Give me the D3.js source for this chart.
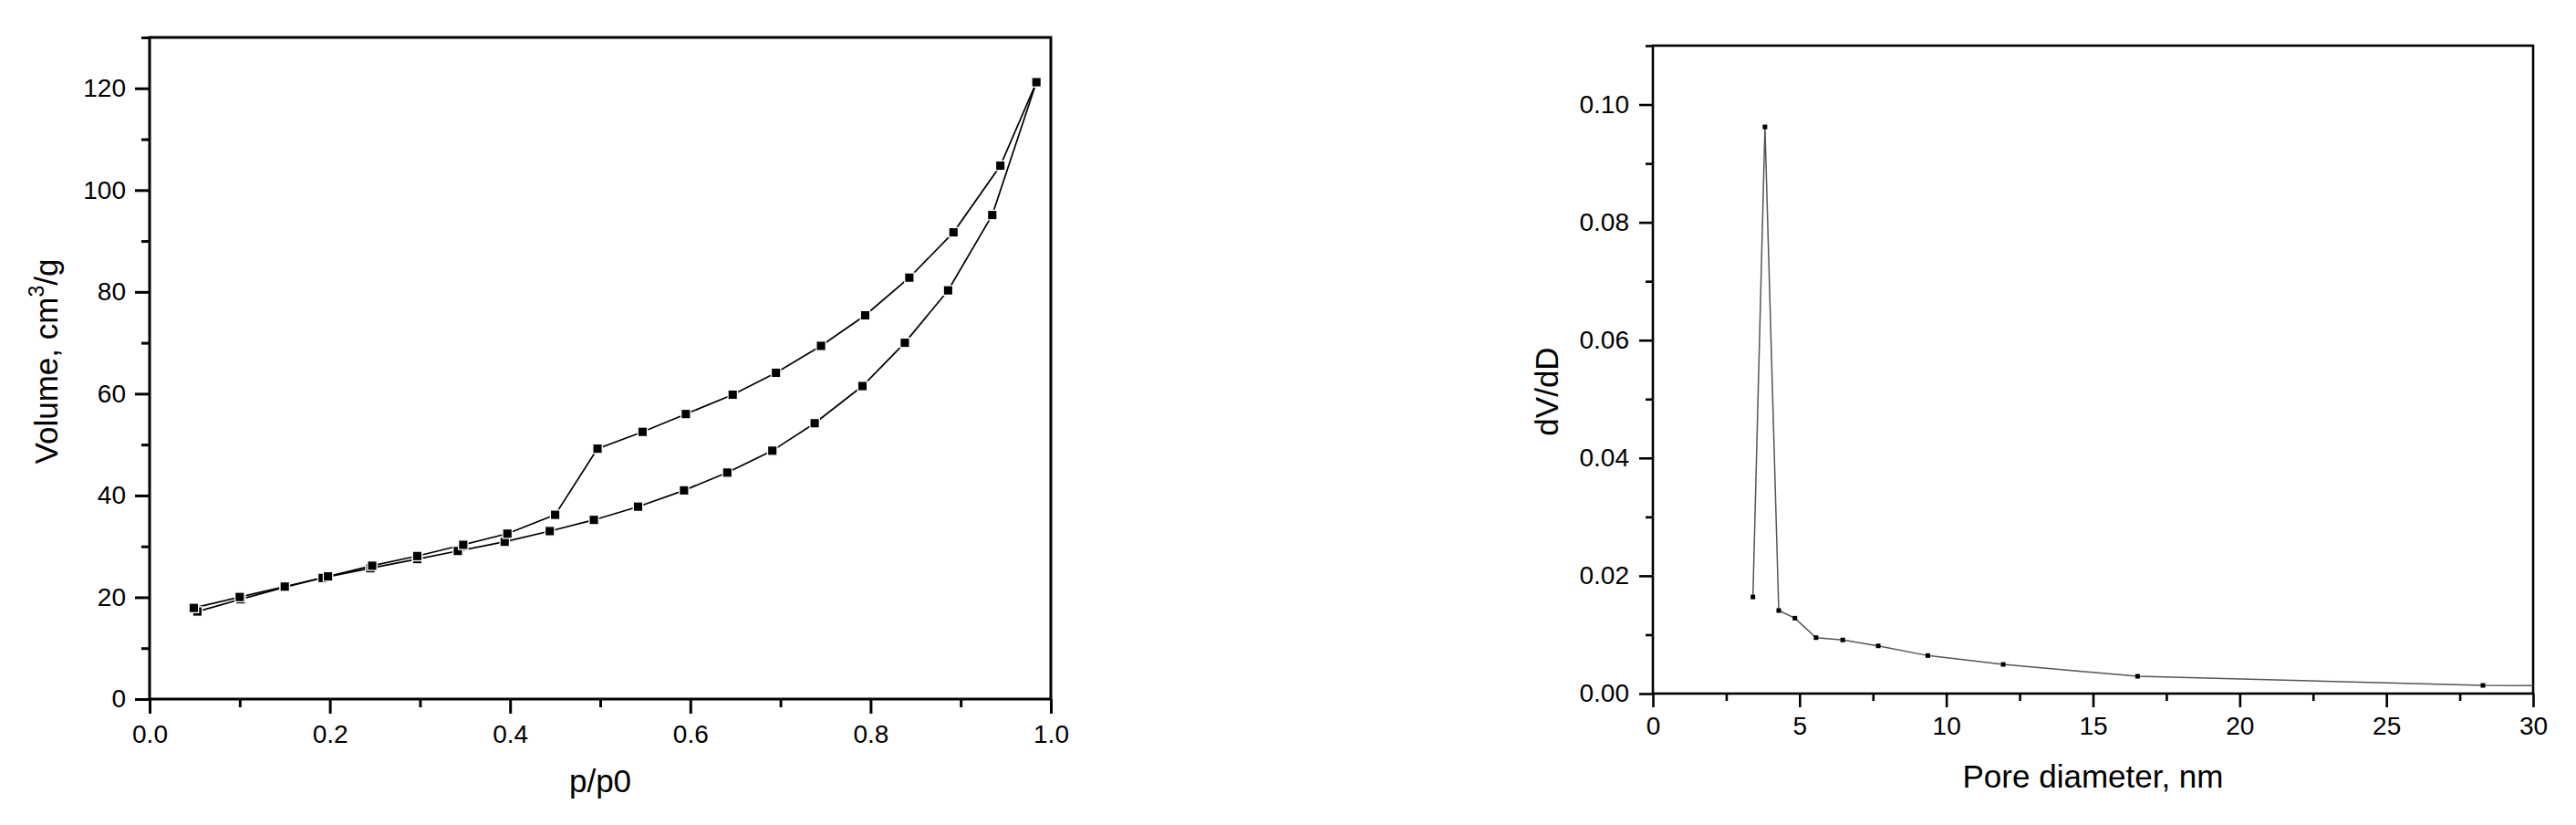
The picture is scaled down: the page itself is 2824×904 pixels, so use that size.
<!DOCTYPE html>
<html>
<head>
<meta charset="utf-8">
<script src="https://cdn.jsdelivr.net/npm/d3@7"></script>
<style>
  body { margin: 0; background: #fff; }
  text { font-family: "Liberation Sans", Arial, sans-serif; fill: #000; }
</style>
</head>
<body>
<svg id="chart" width="2824" height="904"></svg>
<script>
// isotherm (left)
const adsP = [0.053, 0.101, 0.150, 0.192, 0.245, 0.297, 0.342, 0.394, 0.444, 0.493, 0.542, 0.593, 0.641, 0.691, 0.738, 0.791, 0.838, 0.886, 0.935, 0.984]
const adsV = [17.2, 19.6, 22.0, 23.8, 25.7, 27.5, 29.1, 30.9, 33.0, 35.2, 37.8, 41.0, 44.5, 48.8, 54.2, 61.5, 70.0, 80.3, 95.1, 121.2]
const desP = [0.984, 0.944, 0.892, 0.843, 0.794, 0.745, 0.695, 0.647, 0.595, 0.547, 0.497, 0.450, 0.397, 0.348, 0.297, 0.247, 0.198, 0.150, 0.100, 0.049]
const desV = [121.2, 104.8, 91.7, 82.8, 75.4, 69.4, 64.1, 59.8, 56.0, 52.5, 49.2, 36.2, 32.5, 30.3, 28.1, 26.2, 24.1, 22.1, 20.05, 17.9]
const isoXTicks = [0, 0.2, 0.4, 0.6, 0.8, 1.0]
const isoYTicks = [0, 20, 40, 60, 80, 100, 120]

// pore size distribution (right)
const poreD = [3.41, 3.82, 4.29, 4.84, 5.56, 6.47, 7.68, 9.37, 11.94, 16.52, 28.29, 45]
const poreDV = [0.0164, 0.0962, 0.0141, 0.0128, 0.0095, 0.0091, 0.0081, 0.00645, 0.00495, 0.00294, 0.00139, 0.0011]
const poreXTicks = [0, 5, 10, 15, 20, 25, 30]
const poreYTicks = [0, 0.02, 0.04, 0.06, 0.08, 0.10]

var svg = d3.select("#chart")

function frame(g, x, y, xTicks, yTicks, xMinor, yMinor, fmtX, fmtY, sw, tk) {
    var w = x.range()[1], h = y.range()[0]

    // minor ticks
    g.append("g").attr("transform", "translate(0," + h + ")")
        .call(d3.axisBottom(x).tickValues(xMinor).tickSize(tk.minor).tickFormat(""))
    g.append("g")
        .call(d3.axisLeft(y).tickValues(yMinor).tickSize(tk.minor).tickFormat(""))

    g.append("g").attr("transform", "translate(0," + h + ")")
        .call(d3.axisBottom(x).tickValues(xTicks).tickSize(tk.major).tickPadding(tk.padX).tickFormat(fmtX))
    g.append("g")
        .call(d3.axisLeft(y).tickValues(yTicks).tickSize(tk.major).tickPadding(tk.padY).tickFormat(fmtY))

    g.selectAll(".domain").remove()
    g.selectAll(".tick line").attr("stroke", "#000").attr("stroke-width", sw)
    g.selectAll(".tick text").attr("font-size", "28px").style("font-family", '"Liberation Sans", Arial, sans-serif')

    // box
    g.append("rect")
        .attr("x", 0).attr("y", 0).attr("width", w).attr("height", h)
        .attr("fill", "none").attr("stroke", "#000").attr("stroke-width", sw)
}

// ---------- left chart ----------
var L = { left: 164, top: 41, w: 988, h: 725 }
var gl = svg.append("g").attr("transform", "translate(" + L.left + "," + L.top + ")")
var xl = d3.scaleLinear().domain([0, 1.0]).range([0, L.w])
var yl = d3.scaleLinear().domain([0, 130]).range([L.h, 0])

frame(gl, xl, yl, isoXTicks,
    isoYTicks,
    [0.1, 0.3, 0.5, 0.7, 0.9],
    [10, 30, 50, 70, 90, 110, 130],
    d3.format(".1f"), d3.format("d"), 3,
    { major: 16, minor: 9, padX: 12, padY: 10 })

var lineL = d3.line().x(d => xl(d[0])).y(d => yl(d[1]))
var ads = d3.zip(adsP, adsV)
var des = d3.zip(desP, desV)

;[ads, des].forEach(function(s) {
    gl.append("path")
        .datum(s)
        .attr("d", lineL)
        .attr("fill", "none")
        .attr("stroke", "#000")
        .attr("stroke-width", 1.7)
})
;[ads, des].forEach(function(s) {
    gl.selectAll(null)
        .data(s)
        .enter()
        .append("rect")
        .attr("x", d => xl(d[0]) - 5.2)
        .attr("y", d => yl(d[1]) - 5.2)
        .attr("width", 10.4)
        .attr("height", 10.4)
        .attr("fill", "#000")
        .attr("stroke", "#fff")
        .attr("stroke-width", 1.3)
})

gl.append("text")
    .attr("x", L.w / 2)
    .attr("y", 827)
    .attr("text-anchor", "middle")
    .attr("font-size", "35px")
    .text("p/p0")

var yt = svg.append("text")
    .attr("transform", "translate(63,396) rotate(-90)")
    .attr("text-anchor", "middle")
    .attr("font-size", "35px")
yt.append("tspan").text("Volume, cm")
yt.append("tspan").attr("font-size", "23px").attr("dy", "-15").text("3")
yt.append("tspan").attr("dy", "15").text("/g")

// ---------- right chart ----------
var R = { left: 1812, top: 50, w: 965, h: 710 }
var gr = svg.append("g").attr("transform", "translate(" + R.left + "," + R.top + ")")
var xr = d3.scaleLinear().domain([0, 30]).range([0, R.w])
var yr = d3.scaleLinear().domain([0, 0.11]).range([R.h, 0])

gr.append("clipPath").attr("id", "clipR")
    .append("rect").attr("width", R.w).attr("height", R.h)

frame(gr, xr, yr, poreXTicks,
    poreYTicks,
    [2.5, 7.5, 12.5, 17.5, 22.5, 27.5],
    [0.01, 0.03, 0.05, 0.07, 0.09, 0.11],
    d3.format("d"), d3.format(".2f"), 2.6,
    { major: 15, minor: 8, padX: 10, padY: 11 })

var pore = d3.zip(poreD, poreDV)
var lineR = d3.line().x(d => xr(d[0])).y(d => yr(d[1]))

gr.append("path")
    .datum(pore)
    .attr("clip-path", "url(#clipR)")
    .attr("d", lineR)
    .attr("fill", "none")
    .attr("stroke", "#555")
    .attr("stroke-width", 1.5)

gr.selectAll(null)
    .data(pore.filter(d => d[0] <= 30))
    .enter()
    .append("rect")
    .attr("x", d => xr(d[0]) - 2.5)
    .attr("y", d => yr(d[1]) - 2.5)
    .attr("width", 5)
    .attr("height", 5)
    .attr("fill", "#000")

gr.append("text")
    .attr("x", R.w / 2)
    .attr("y", 813)
    .attr("text-anchor", "middle")
    .attr("font-size", "35px")
    .text("Pore diameter, nm")

svg.append("text")
    .attr("transform", "translate(1708,429) rotate(-90)")
    .attr("text-anchor", "middle")
    .attr("font-size", "35px")
    .text("dV/dD")
</script>
</body>
</html>
